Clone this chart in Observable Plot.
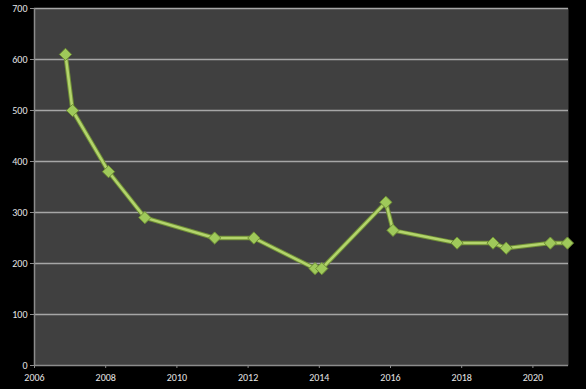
<!DOCTYPE html>
<html><head><meta charset="utf-8">
<script src="https://cdn.jsdelivr.net/npm/d3@7"></script>
<script src="https://cdn.jsdelivr.net/npm/@observablehq/plot@0.6"></script>
<style>
html,body{margin:0;padding:0;background:#000;}
</style>
</head><body>
<div id="chart"></div>
<script>
const years = [2006.87, 2007.07, 2008.08, 2009.1, 2011.06, 2012.16, 2013.88, 2014.07, 2015.87, 2016.07, 2017.87, 2018.88, 2019.25, 2020.49, 2020.97];
const values = [610, 500, 380, 290, 250, 250, 190, 190, 320, 265, 240, 240, 230, 240, 240];
const xTicks = [2006, 2008, 2010, 2012, 2014, 2016, 2018, 2020];
const yTicks = [0, 100, 200, 300, 400, 500, 600, 700];

const data = years.map((x, i) => ({x, y: values[i]}));

const chart = Plot.plot({
  width: 586,
  height: 389,
  marginLeft: 34,
  marginRight: 18,
  marginTop: 8,
  marginBottom: 24,
  style: {background: "#000", color: "#e6e6e6", fontFamily: "Carlito, 'Liberation Sans', sans-serif", fontSize: "10px"},
  x: {domain: [2006, 2021]},
  y: {domain: [0, 700]},
  marks: [
    Plot.frame({fill: "#404040", stroke: null}),
    Plot.ruleY(yTicks.filter(d => d > 0), {stroke: "#a6a6a6", strokeWidth: 1.5}),
    Plot.ruleY([0], {stroke: "#8c8c8c", strokeWidth: 1.5}),
    Plot.ruleX([2006], {stroke: "#8c8c8c", strokeWidth: 1.5}),
    Plot.axisX({ticks: xTicks, tickFormat: d => String(d), tickSize: 3, tickPadding: 5, stroke: "#8c8c8c", label: null}),
    Plot.axisY({ticks: yTicks, tickSize: 4, tickPadding: 3, stroke: "#8c8c8c", label: null}),
    Plot.line(data, {x: "x", y: "y", stroke: "#6f8f35", strokeWidth: 4.5}),
    Plot.line(data, {x: "x", y: "y", stroke: "#b3d46c", strokeWidth: 2.5}),
    Plot.dot(data, {x: "x", y: "y", symbol: "diamond2", r: 5.5, fill: "#9fc95a", stroke: "#6f8f35", strokeWidth: 1})
  ]
});
document.getElementById("chart").appendChild(chart);
</script>
</body></html>
